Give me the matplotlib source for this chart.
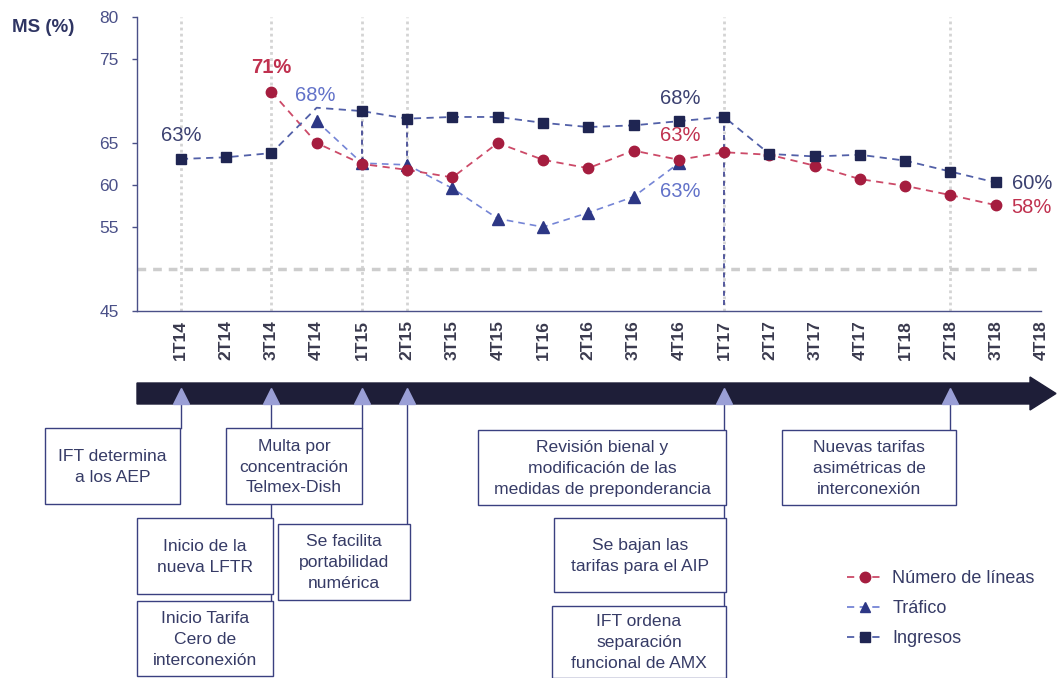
import numpy as np
import matplotlib
matplotlib.use("Agg")
import matplotlib.pyplot as plt
import matplotlib.transforms as mtransforms
from matplotlib.patches import Rectangle, Polygon
from matplotlib.lines import Line2D

plt.rcParams['font.family'] = ['Liberation Sans', 'DejaVu Sans']

# ---------------- data ----------------
quarters = ['1T14', '2T14', '3T14', '4T14', '1T15', '2T15', '3T15', '4T15',
            '1T16', '2T16', '3T16', '4T16', '1T17', '2T17', '3T17', '4T17',
            '1T18', '2T18', '3T18', '4T18']
nan = np.nan
lineas = [nan, nan, 71.1, 65.0, 62.5, 61.8, 60.9, 65.0, 63.0, 62.0, 64.1, 63.0,
          63.9, 63.6, 62.3, 60.7, 59.9, 58.8, 57.6, nan]
trafico = [nan, nan, nan, 67.6, 62.6, 62.4, 59.6, 56.0, 55.0, 56.7, 58.6, 62.6,
           nan, nan, nan, nan, nan, nan, nan, nan]
ingresos = [63.1, 63.3, 63.8, 69.2, 68.8, 67.9, 68.1, 68.1, 67.4, 66.9, 67.1, 67.6,
            68.1, 63.7, 63.4, 63.6, 62.9, 61.6, 60.3, nan]
yticks = [45, 55, 60, 65, 75, 80]
ref_level = 50

event_idx = [0, 2, 4, 5, 12, 17]
event_line_end = [428, 632, 428, 524, 678, 430]   # pixel y where connector ends
boxes = [
    (45, 428, 180, 504, "IFT determina\na los AEP"),
    (226, 428, 362, 504, "Multa por\nconcentración\nTelmex-Dish"),
    (137, 518, 273, 594, "Inicio de la\nnueva LFTR"),
    (278, 524, 410, 600, "Se facilita\nportabilidad\nnumérica"),
    (137, 601, 273, 676, "Inicio Tarifa\nCero de\ninterconexión"),
    (478, 430, 726, 505, "Revisión bienal y\nmodificación de las\nmedidas de preponderancia"),
    (554, 518, 726, 592, "Se bajan las\ntarifas para el AIP"),
    (552, 606, 726, 678, "IFT ordena\nseparación\nfuncional de AMX"),
    (782, 430, 956, 505, "Nuevas tarifas\nasimétricas de\ninterconexión"),
]

# ---------------- figure ----------------
W, H = 1059, 678
fig = plt.figure(figsize=(W / 100, H / 100), dpi=100)
fig.patch.set_facecolor('white')
fx = lambda x: x / W
fy = lambda y: 1 - y / H

ax = fig.add_axes([fx(137), fy(311), fx(1041 - 137), (311 - 17) / H])
x = np.arange(len(quarters))

C_ING_M, C_ING_L = '#1f2552', '#5260a8'
C_LIN_M, C_LIN_L = '#a51d3f', '#cc4a68'
C_TRA_M, C_TRA_L = '#2d3785', '#7585d6'
NAVY_TXT = '#3b4070'

# gray guides
for i in event_idx:
    ax.axvline(i, color='#d4d4d4', lw=2.0, ls=(0, (1, 1.2)), zorder=0)
ax.axhline(ref_level, color='#cdcdcd', lw=2.5, ls=(0, (2.5, 2)), zorder=0)

# navy vertical connectors
tr = np.array(trafico); ing = np.array(ingresos)
ax.vlines([4, 5], tr[[4, 5]], ing[[4, 5]], colors='#3a4090', lw=1.2,
          linestyles=(0, (3, 2.5)), zorder=1)
ax.vlines([12], [45.7], [ing[12]], colors='#3a4090', lw=1.2,
          linestyles=(0, (3, 2.5)), zorder=1)

dash = (0, (4, 3))
ax.plot(x, trafico, color=C_TRA_L, lw=1.2, ls=dash, marker='^', ms=8,
        mfc=C_TRA_M, mec=C_TRA_M, zorder=3)
ax.plot(x, lineas, color=C_LIN_L, lw=1.3, ls=dash, marker='o', ms=7.5,
        mfc=C_LIN_M, mec=C_LIN_M, zorder=4)
ax.plot(x, ingresos, color=C_ING_L, lw=1.3, ls=dash, marker='s', ms=7.5,
        mfc=C_ING_M, mec=C_ING_M, zorder=5,
        markevery=[i for i in range(len(x)) if i != 3])

# data labels
def lab(series, i, dx, dy, color, weight='normal'):
    v = series[i]
    ax.annotate(f"{v:.0f}%", (i, v), xytext=(dx, dy), textcoords='offset pixels',
                ha='center', va='center', fontsize=14.5, color=color,
                fontweight=weight, zorder=6)

lab(ingresos, 0, 0, 23, NAVY_TXT)
lab(lineas, 2, 0, 24, '#c0314f', 'bold')
lab(trafico, 3, -1, 26, '#6272c9')
lab(ingresos, 11, 1, 23, NAVY_TXT)
lab(lineas, 11, 1, 24, '#c0314f')
lab(trafico, 11, 1, -28, '#6272c9')
lab(ingresos, 18, 36, -1, NAVY_TXT)
lab(lineas, 18, 36, -2, '#c0314f')

# axes styling
ax.set_xlim(-0.969, 18.93)
ax.set_ylim(45, 80)
ax.set_yticks(yticks)
ax.set_xticks(x)
ax.set_xticklabels(quarters, rotation=90, fontsize=12.5, fontweight='bold',
                   color='#3a3a4e')
ax.tick_params(axis='x', length=0, pad=6.5)
ax.tick_params(axis='y', length=3.6, pad=9.5, labelsize=12.5,
               labelcolor='#4a5088', color='#4a5088', width=1)
for s in ['top', 'right']:
    ax.spines[s].set_visible(False)
for s in ['left', 'bottom']:
    ax.spines[s].set_color('#4a5088')
    ax.spines[s].set_linewidth(1.0)

fig.text(fx(12), fy(27), "MS (%)", fontsize=13.5, fontweight='bold',
         color='#2f3563', ha='left', va='center')

# ---------------- timeline ----------------
btrans = mtransforms.blended_transform_factory(ax.transData, fig.transFigure)

# connector lines (beneath bar and boxes)
for i, yend in zip(event_idx, event_line_end):
    fig.add_artist(Line2D([i, i], [fy(400), fy(yend)], color='#3a4080', lw=1.0,
                          transform=btrans, zorder=1))

arrow = Polygon([(fx(137), fy(383)), (fx(1030), fy(383)), (fx(1030), fy(377)),
                 (fx(1056), fy(393.5)), (fx(1030), fy(410)), (fx(1030), fy(404)),
                 (fx(137), fy(404))], closed=True, transform=fig.transFigure,
                facecolor='#1e1e38', edgecolor='#1e1e38', zorder=2)
fig.add_artist(arrow)

fig.add_artist(Line2D(event_idx, [fy(396)] * len(event_idx), ls='none', marker='^',
                      ms=12, color='#9a9fd6', mec='#9a9fd6', transform=btrans,
                      zorder=5))

for (x0, y0, x1, y1, t) in boxes:
    r = Rectangle((fx(x0), fy(y1)), fx(x1 - x0), (y1 - y0) / H,
                  transform=fig.transFigure, facecolor='white',
                  edgecolor='#3a4080', lw=1.0, zorder=3)
    fig.add_artist(r)
    fig.text(fx((x0 + x1) / 2), fy((y0 + y1) / 2 + 1), t, ha='center', va='center',
             fontsize=12.6, color='#363b66', linespacing=1.5, zorder=4)

# ---------------- legend ----------------
handles = [
    Line2D([], [], color=C_LIN_L, lw=1.3, ls=dash, marker='o', ms=7.5,
           mfc=C_LIN_M, mec=C_LIN_M),
    Line2D([], [], color=C_TRA_L, lw=1.3, ls=dash, marker='^', ms=7,
           mfc=C_TRA_M, mec=C_TRA_M),
    Line2D([], [], color=C_ING_L, lw=1.3, ls=dash, marker='s', ms=7.5,
           mfc=C_ING_M, mec=C_ING_M),
]
leg = fig.legend(handles, ["Número de líneas", "Tráfico", "Ingresos"],
                 loc='upper left', bbox_to_anchor=(fx(847), fy(570)),
                 frameon=False, fontsize=13, handlelength=2.0, handletextpad=0.5,
                 labelspacing=0.72, borderpad=0, borderaxespad=0)
for t in leg.get_texts():
    t.set_color('#363b66')

fig.savefig('out.png', dpi=100, facecolor='white')
